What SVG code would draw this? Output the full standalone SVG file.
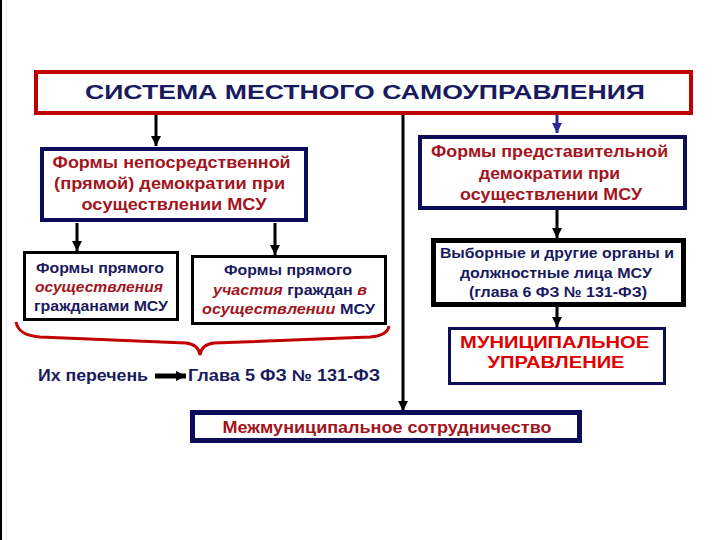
<svg xmlns="http://www.w3.org/2000/svg" width="720" height="540" viewBox="0 0 720 540">
<defs>
<style>
text{font-family:"Liberation Sans",Arial,sans-serif;}
.nv{fill:#1a1a5e;}
.dr{fill:#a3141c;}
.b{font-weight:bold;}
.it{font-style:italic;fill:#a3141c;}
.conn{stroke:#000;stroke-width:3;fill:none;}
</style>
<marker id="ah" markerUnits="userSpaceOnUse" markerWidth="10" markerHeight="10" viewBox="0 0 10 10" refX="10" refY="5" orient="auto">
<path d="M0,0 L10,5 L0,10 Z" fill="#000"/>
</marker>
<marker id="ahb" markerUnits="userSpaceOnUse" markerWidth="10" markerHeight="10" viewBox="0 0 10 10" refX="10" refY="5" orient="auto">
<path d="M0,0 L10,5 L0,10 Z" fill="#2b2b9c"/>
</marker>
</defs>
<rect width="720" height="540" fill="#fff"/>
<line x1="1" y1="0" x2="1" y2="540" stroke="#000" stroke-width="2"/>
<line x1="6.5" y1="0" x2="6.5" y2="540" stroke="#ececec" stroke-width="1"/>

<g id="connectors">
<line class="conn" x1="156" y1="115" x2="156" y2="146" marker-end="url(#ah)"/>
<line class="conn" x1="403" y1="115" x2="403" y2="411" marker-end="url(#ah)"/>
<line x1="557" y1="115" x2="557" y2="133" stroke="#2b2b9c" stroke-width="3" marker-end="url(#ahb)"/>
<line class="conn" x1="77" y1="223" x2="77" y2="251" marker-end="url(#ah)"/>
<line class="conn" x1="275" y1="223" x2="275" y2="255" marker-end="url(#ah)"/>
<line class="conn" x1="557" y1="210" x2="557" y2="238" marker-end="url(#ah)"/>
<line class="conn" x1="557" y1="307" x2="557" y2="327" marker-end="url(#ah)"/>
<line x1="155" y1="376" x2="186" y2="376" stroke="#000" stroke-width="5" marker-end="url(#ah)"/>
<path d="M16,322 C18,332 26,336 40,337 L186,343 C195,344 199,348 200,355 C201,348 205,344 214,343 L370,337 C383,336 388,332 389,326" fill="none" stroke="#c00000" stroke-width="3"/>
</g>

<g id="title">
<rect x="36" y="72" width="655" height="41" fill="#fff" stroke="#c00000" stroke-width="4"/>
<text x="365" y="99" text-anchor="middle" font-size="21" class="nv b" textLength="560" lengthAdjust="spacingAndGlyphs">СИСТЕМА МЕСТНОГО САМОУПРАВЛЕНИЯ</text>
</g>

<g id="direct">
<rect x="42" y="149" width="264" height="71" fill="#fff" stroke="#0c0c5a" stroke-width="4"/>
<text text-anchor="middle" font-size="17" class="dr b">
<tspan x="174" y="168" textLength="238" lengthAdjust="spacingAndGlyphs">Формы непосредственной</tspan>
<tspan x="172" y="189" textLength="231" lengthAdjust="spacingAndGlyphs">(прямой) демократии при</tspan>
<tspan x="174" y="210" textLength="185" lengthAdjust="spacingAndGlyphs">осуществлении МСУ</tspan>
</text>
</g>

<g id="representative">
<rect x="420" y="137" width="265" height="71" fill="#fff" stroke="#0c0c5a" stroke-width="4"/>
<text text-anchor="middle" font-size="17" class="dr b">
<tspan x="552" y="157" textLength="237" lengthAdjust="spacingAndGlyphs">Формы представительной</tspan>
<tspan x="552" y="179" textLength="141" lengthAdjust="spacingAndGlyphs">демократии при</tspan>
<tspan x="551" y="200" textLength="182" lengthAdjust="spacingAndGlyphs">осуществлении МСУ</tspan>
</text>
</g>

<g id="direct-exercise">
<rect x="24.5" y="252.5" width="153" height="67" fill="#fff" stroke="#000" stroke-width="3"/>
<text text-anchor="middle" font-size="15" class="b">
<tspan class="nv" x="102" y="273" textLength="128" lengthAdjust="spacingAndGlyphs">Формы прямого</tspan>
<tspan class="it" x="101" y="292" textLength="128" lengthAdjust="spacingAndGlyphs">осуществления</tspan>
<tspan class="nv" x="101" y="311" textLength="134" lengthAdjust="spacingAndGlyphs">гражданами МСУ</tspan>
</text>
</g>

<g id="direct-participation">
<rect x="192.5" y="256.5" width="193" height="67" fill="#fff" stroke="#000" stroke-width="3"/>
<text text-anchor="middle" font-size="15" class="b nv" x="288" y="275" textLength="128" lengthAdjust="spacingAndGlyphs">Формы прямого</text>
<text text-anchor="middle" font-size="15" class="b nv" x="290" y="295" textLength="154" lengthAdjust="spacingAndGlyphs"><tspan class="it">участия</tspan> граждан <tspan class="it">в</tspan></text>
<text text-anchor="middle" font-size="15" class="b nv" x="288.5" y="314" textLength="173" lengthAdjust="spacingAndGlyphs"><tspan class="it">осуществлении</tspan> МСУ</text>
</g>

<g id="elected">
<rect x="433.5" y="240.5" width="250" height="64" fill="#fff" stroke="#000" stroke-width="5"/>
<text text-anchor="middle" font-size="15" class="b nv">
<tspan x="559" y="258" textLength="234" lengthAdjust="spacingAndGlyphs">Выборные и другие органы и</tspan>
<tspan x="558" y="278" textLength="192" lengthAdjust="spacingAndGlyphs">должностные лица МСУ</tspan>
<tspan x="558" y="297" textLength="178" lengthAdjust="spacingAndGlyphs">(глава 6 ФЗ № 131-ФЗ)</tspan>
</text>
</g>

<g id="municipal">
<rect x="449.5" y="328.5" width="215" height="55" fill="#fff" stroke="#0c0c5a" stroke-width="3"/>
<text text-anchor="middle" font-size="17" class="b" fill="#e00000">
<tspan x="557" y="348" textLength="189" lengthAdjust="spacingAndGlyphs">МУНИЦИПАЛЬНОЕ</tspan>
<tspan x="556" y="368" textLength="137" lengthAdjust="spacingAndGlyphs">УПРАВЛЕНИЕ</tspan>
</text>
</g>

<g id="intermunicipal">
<rect x="192.5" y="412.5" width="387" height="28" fill="#fff" stroke="#0c0c5a" stroke-width="5"/>
<text x="387" y="433" text-anchor="middle" font-size="16" class="b dr" textLength="329" lengthAdjust="spacingAndGlyphs">Межмуниципальное сотрудничество</text>
</g>

<g id="list">
<text x="38" y="381" font-size="16" class="b nv" textLength="110" lengthAdjust="spacingAndGlyphs">Их перечень</text>
</g>
<g id="chapter5">
<text x="188" y="381" font-size="16" class="b nv" textLength="192" lengthAdjust="spacingAndGlyphs">Глава 5 ФЗ № 131-ФЗ</text>
</g>
</svg>
